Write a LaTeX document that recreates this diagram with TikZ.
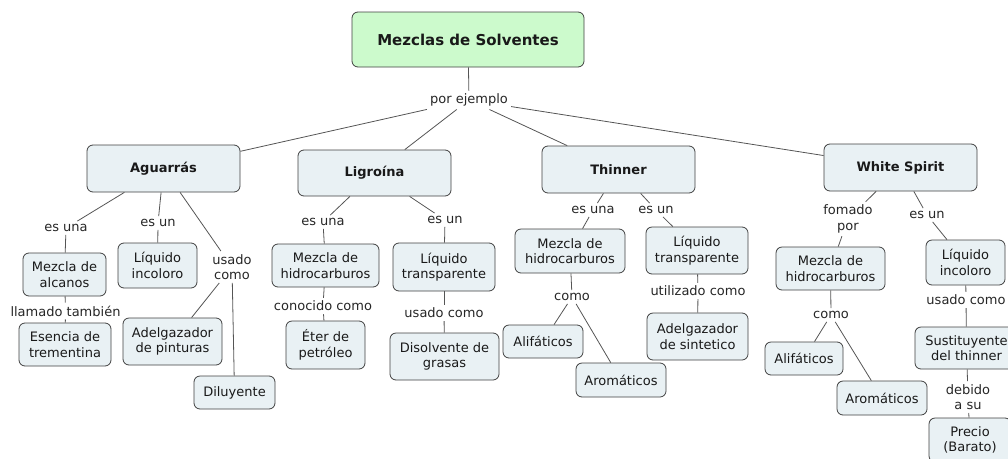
\documentclass[tikz,border=0pt]{standalone}
\usepackage{fontspec}
\setmainfont{DejaVu Sans}
\definecolor{cfill}{RGB}{233,241,244}
\definecolor{rfill}{RGB}{204,250,204}
\definecolor{cline}{RGB}{85,85,85}
\tikzset{
  concept/.style={draw=black!75,fill=cfill,rounded corners=6pt,align=center,
    line width=0.8pt,inner sep=2pt,text=black!90,font=\fontsize{13}{15.5}\selectfont},
  boxsize/.style 2 args={minimum width=#1pt,minimum height=#2pt},
  linkword/.style={align=center,inner sep=3pt,text=black!85,
    font=\fontsize{13}{15.5}\selectfont},
  link/.style={draw=cline,line width=0.8pt}
}
\begin{document}
\begin{tikzpicture}[x=1pt,y=-1pt]
\useasboundingbox (0,0) rectangle (1008,458);
\node[concept,fill=rfill,boxsize={232}{55},font=\fontsize{15}{18}\selectfont\bfseries] (root) at (468,39.5) {Mezclas de Solventes};
\node[linkword] (ej) at (469,100) {por ejemplo};
\node[concept,boxsize={153}{47},font=\fontsize{13}{15.5}\selectfont\bfseries] (agu) at (163.5,168.5) {Aguarrás};
\node[concept,boxsize={153}{46},font=\fontsize{13}{15.5}\selectfont\bfseries] (lig) at (374.5,173) {Ligroína};
\node[concept,boxsize={153}{47},font=\fontsize{13}{15.5}\selectfont\bfseries] (thi) at (618.5,169.5) {Thinner};
\node[concept,boxsize={153}{47},font=\fontsize{13}{15.5}\selectfont\bfseries] (whi) at (900.5,167.5) {White Spirit};
% Aguarras
\node[linkword] (aguL1) at (66,228) {es una};
\node[concept,boxsize={83}{43}] (aguMez) at (64.5,274.5) {Mezcla de\\alcanos};
\node[linkword] (aguL2) at (65.5,311) {llamado también};
\node[concept,boxsize={92}{43}] (aguEse) at (65,344.5) {Esencia de\\trementina};
\node[linkword] (aguL3) at (158,223) {es un};
\node[concept,boxsize={79}{45}] (aguLiq) at (157.5,265.5) {Líquido\\incoloro};
\node[linkword] (aguL4) at (232,267) {usado\\como};
\node[concept,boxsize={99}{47}] (aguAde) at (172.5,341.5) {Adelgazador\\de pinturas};
\node[concept,boxsize={81}{33}] (aguDil) at (234.5,392.5) {Diluyente};
% Ligroina
\node[linkword] (ligL1) at (323,222) {es una};
\node[concept,boxsize={107}{43}] (ligMez) at (325.5,265.5) {Mezcla de\\hidrocarburos};
\node[linkword] (ligL2) at (323,306) {conocido como};
\node[concept,boxsize={79}{48}] (ligEte) at (325.5,345) {Éter de\\petróleo};
\node[linkword] (ligL3) at (445,220) {es un};
\node[concept,boxsize={102}{48}] (ligLiq) at (444,267) {Líquido\\transparente};
\node[linkword] (ligL4) at (444,313) {usado como};
\node[concept,boxsize={109}{47}] (ligDis) at (444.5,356.5) {Disolvente de\\grasas};
% Thinner
\node[linkword] (thiL1) at (593,210) {es una};
\node[concept,boxsize={110}{44}] (thiMez) at (570,251) {Mezcla de\\hidrocarburos};
\node[linkword] (thiL2) at (572,297) {como};
\node[concept,boxsize={80}{33}] (thiAli) at (543,341.5) {Alifáticos};
\node[concept,boxsize={90}{34}] (thiAro) at (621,380) {Aromáticos};
\node[linkword] (thiL3) at (656,210) {es un};
\node[concept,boxsize={102}{47}] (thiLiq) at (697,250.5) {Líquido\\transparente};
\node[linkword] (thiL4) at (698,291) {utilizado como};
\node[concept,boxsize={101}{47}] (thiAde) at (697.5,336.5) {Adelgazador\\de sintetico};
% White Spirit
\node[linkword] (whiL1) at (848,219) {fomado\\por};
\node[concept,boxsize={109}{43}] (whiMez) at (830.5,268.5) {Mezcla de\\hidrocarburos};
\node[linkword] (whiL2) at (831,315) {como};
\node[concept,boxsize={78}{33}] (whiAli) at (804,358.5) {Alifáticos};
\node[concept,boxsize={90}{34}] (whiAro) at (882,398) {Aromáticos};
\node[linkword] (whiL3) at (927,215) {es un};
\node[concept,boxsize={79}{45}] (whiLiq) at (965.5,262.5) {Líquido\\incoloro};
\node[linkword] (whiL4) at (966,300) {usado como};
\node[concept,boxsize={103}{42}] (whiSus) at (966.5,348) {Sustituyente\\del thinner};
\node[linkword] (whiL5) at (968,397) {debido\\a su};
\node[concept,boxsize={82}{44}] (whiPre) at (970,440) {Precio\\(Barato)};
% connectors
\foreach \a/\b in {root/ej,ej/agu,ej/lig,ej/thi,ej/whi,
    agu/aguL1,aguL1/aguMez,aguMez/aguL2,aguL2/aguEse,agu/aguL3,aguL3/aguLiq,
    agu/aguL4,aguL4/aguAde,aguL4/aguDil,
    lig/ligL1,ligL1/ligMez,ligMez/ligL2,ligL2/ligEte,lig/ligL3,ligL3/ligLiq,ligLiq/ligL4,ligL4/ligDis,
    thi/thiL1,thiL1/thiMez,thiMez/thiL2,thiL2/thiAli,thiL2/thiAro,thi/thiL3,thiL3/thiLiq,thiLiq/thiL4,thiL4/thiAde,
    whi/whiL1,whiL1/whiMez,whiMez/whiL2,whiL2/whiAli,whiL2/whiAro,whi/whiL3,whiL3/whiLiq,whiLiq/whiL4,whiL4/whiSus,whiSus/whiL5,whiL5/whiPre}
  \draw[link] (\a) -- (\b);
\end{tikzpicture}
\end{document}
